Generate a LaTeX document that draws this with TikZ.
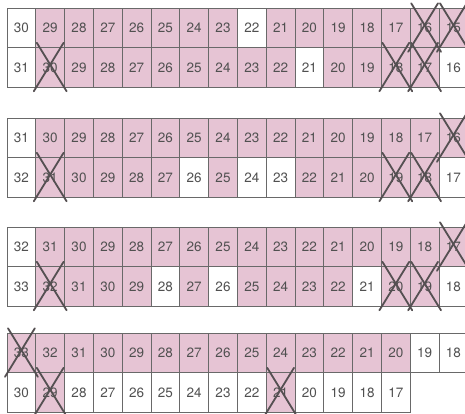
\documentclass[tikz,border=0pt]{standalone}
\usepackage{fontspec}
\setmainfont{TeX Gyre Heros}
\usepackage{xcolor}
\definecolor{cellpink}{RGB}{230,196,212}
\definecolor{gridgray}{RGB}{105,105,105}
\definecolor{numgray}{RGB}{80,80,80}
\definecolor{crossgray}{RGB}{85,80,82}

\begin{document}
\begin{tikzpicture}[x=1pt, y=1pt, every node/.style={font=\fontsize{13.5}{15}\selectfont}]
  % styles
  \tikzstyle{cellw}=[rectangle, draw=gridgray, line width=0.9pt, fill=white, text=numgray, minimum width=28.8pt, minimum height=39.5pt, inner sep=0pt, outer sep=0pt]
  \tikzstyle{cellp}=[cellw, fill=cellpink]
  \tikzstyle{cross}=[draw=crossgray, line width=1.8pt, line cap=round]

  \useasboundingbox[fill=white] (0,0) rectangle (465,414);

  % rows: name / top edge (from top of picture) / cells
  \foreach \rowname/\ytop/\cells in {
    r1/8.3/{30/w,29/p,28/p,27/p,26/p,25/p,24/p,23/p,22/w,21/p,20/p,19/p,18/p,17/p,16/p,15/p},
    r2/47.8/{31/w,30/p,29/p,28/p,27/p,26/p,25/p,24/p,23/p,22/p,21/w,20/p,19/p,18/p,17/p,16/w},
    r3/118.3/{31/w,30/p,29/p,28/p,27/p,26/p,25/p,24/p,23/p,22/p,21/p,20/p,19/p,18/p,17/p,16/p},
    r4/157.8/{32/w,31/p,30/p,29/p,28/p,27/p,26/w,25/p,24/w,23/w,22/p,21/p,20/p,19/p,18/p,17/w},
    r5/227.3/{32/w,31/p,30/p,29/p,28/p,27/p,26/p,25/p,24/p,23/p,22/p,21/p,20/p,19/p,18/p,17/p},
    r6/266.8/{33/w,32/p,31/p,30/p,29/p,28/w,27/p,26/w,25/p,24/p,23/p,22/p,21/w,20/p,19/p,18/w},
    r7/333.3/{33/p,32/p,31/p,30/p,29/p,28/p,27/p,26/p,25/p,24/p,23/p,22/p,21/p,20/p,19/w,18/w},
    r8/372.8/{30/w,29/p,28/w,27/w,26/w,25/w,24/w,23/w,22/w,21/p,20/w,19/w,18/w,17/w}}
  {
    \foreach \num/\kind [count=\i from 0] in \cells
      \node[cell\kind] (\rowname-\i) at ({21.4+28.8*\i}, {394.25-\ytop}) {\num};
  }

  % crossed-out cells
  \foreach \c in {r1-14, r1-15, r2-1, r2-13, r2-14, r3-15, r4-1, r4-13, r4-14,
                  r5-15, r6-1, r6-13, r6-14, r7-0, r8-1, r8-9}
  {
    \draw[cross] ([shift={(1,5)}]\c.north west) -- ([shift={(2,-4)}]\c.south east);
    \draw[cross] ([shift={(-1,5)}]\c.north east) -- ([shift={(-2,-4)}]\c.south west);
  }
\end{tikzpicture}
\end{document}
